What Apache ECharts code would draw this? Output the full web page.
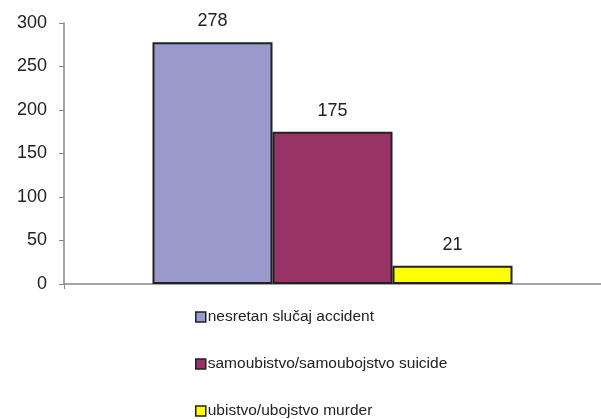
<!DOCTYPE html>
<html><head><meta charset="utf-8">
<script src="https://cdn.jsdelivr.net/npm/echarts@6/dist/echarts.min.js"></script>
<style>html,body{margin:0;padding:0;background:#fff}#c{width:601px;height:419px}</style>
</head><body><div id="c"></div>
<script>
const seriesNames = ['nesretan slučaj accident', 'samoubistvo/samoubojstvo suicide', 'ubistvo/ubojstvo murder'];
const seriesValues = [278, 175, 21];
const seriesColors = ['#9999cc', '#993366', '#ffff00'];
const categories = [''];
const yTicks = { min: 0, max: 300, interval: 50 };

const chart = echarts.init(document.getElementById('c'));
const font = 'Liberation Sans, Arial, sans-serif';
chart.setOption({
  animation: false,
  grid: { left: 64, right: 0, top: 23, bottom: 135 },
  xAxis: {
    type: 'category', data: categories,
    axisLine: { lineStyle: { color: '#888', width: 1.5 } },
    axisTick: { show: true, length: 5, lineStyle: { color: '#888' } },
    axisLabel: { show: false }
  },
  yAxis: {
    type: 'value', min: yTicks.min, max: yTicks.max, interval: yTicks.interval,
    splitLine: { show: false },
    axisLine: { show: true, lineStyle: { color: '#888', width: 1.5 } },
    axisTick: { show: true, length: 5, lineStyle: { color: '#888' } },
    axisLabel: { color: '#222', fontSize: 18, fontFamily: font, margin: 17 }
  },
  legend: {
    orient: 'vertical', left: 195, top: 309, height: 300, padding: 0,
    itemWidth: 10, itemHeight: 10, itemGap: 31,
    icon: 'rect',
    textStyle: { color: '#222', fontSize: 15.5, lineHeight: 16, fontFamily: font, padding: [0, 0, 0, -3] },
    itemStyle: { borderColor: '#222', borderWidth: 1.5 },
    data: seriesNames
  },
  series: seriesNames.map((n, i) => ({
    name: n, type: 'bar', barWidth: 120, barGap: 0,
    data: [seriesValues[i]],
    itemStyle: { color: seriesColors[i], borderColor: '#222', borderWidth: 2 },
    label: { show: true, position: 'top', distance: 12, color: '#222', fontSize: 18, fontFamily: font }
  }))
});
</script></body></html>
